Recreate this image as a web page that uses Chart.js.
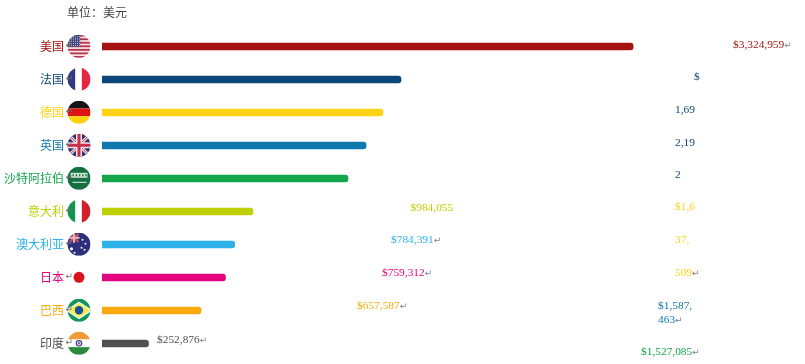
<!DOCTYPE html>
<html>
<head>
<meta charset="utf-8">
<style>html,body{margin:0;padding:0;background:#fff}#wrap{width:805px;height:364px;position:relative}</style>
<script src="https://cdn.jsdelivr.net/npm/chart.js@4"></script>
</head>
<body>
<div id="wrap"><canvas id="c" width="805" height="364"></canvas></div>
<script>
const categories = ['美国','法国','德国','英国','沙特阿拉伯','意大利','澳大利亚','日本','巴西','印度'];
const barValues = [3324959,1872000,1759000,1653000,1540000,945000,831000,773000,620000,291000];
const barColors = ['#a51212','#0d4679','#ffd314','#1178ad','#12a54a','#bfd000','#2fb2ea','#e4047f','#f9aa0e','#505050'];
const titleText = '单位：美元';
const valueTexts = [
  ['$3,324,959↵'],
  ['$','1,69','2,19','2'],
  ['$1,6','37,','509↵'],
  ['$1,587,','463↵'],
  ['$1,527,085↵'],
  ['$984,055'],
  ['$784,391↵'],
  ['$759,312↵'],
  ['$657,587↵'],
  ['$252,876↵']
];
const flagNames = ['us','fr','de','uk','sa','it','au','jp','br','in'];

/* layout only */
const textSpots = [
  [[733,45]],
  [[694,77.5],[675,110],[675,143],[675,175]],
  [[675,207.5],[675,240],[675,273]],
  [[658,306.5],[658,320.5]],
  [[641,352.5]],
  [[410.5,208.5]],
  [[391,240]],
  [[382,273]],
  [[357,306.5]],
  [[157,340]]
];

function band(ctx,x,y,w,h,col){ctx.fillStyle=col;ctx.fillRect(x,y,w,h);}
function drawFlag(ctx,name,cx,cy){
  const r=11.5,L=cx-r,T=cy-r,S=2*r;
  ctx.save();
  if(name==='jp'){
    ctx.fillStyle='#d9141c';ctx.beginPath();ctx.arc(cx,cy,5.5,0,Math.PI*2);ctx.fill();ctx.restore();return;
  }
  ctx.beginPath();ctx.arc(cx,cy,r,0,Math.PI*2);ctx.clip();
  if(name==='us'){
    band(ctx,L,T,S,S,'#f7dfe2');
    for(let i=0;i<7;i++)band(ctx,L,T+i*S/6.5,S,S/13,'#b5334a');
    band(ctx,L,T,S*0.55,S*0.52,'#3f4579');
    ctx.fillStyle='#c9cbe0';
    for(let a=0;a<5;a++)for(let b=0;b<6;b++)ctx.fillRect(L+1.5+b*2,T+1.5+a*2.2,1,1);
  }else if(name==='fr'){
    band(ctx,L,T,S,S,'#fff');band(ctx,L,T,S/3,S,'#2f3a86');band(ctx,L+S*2/3-1,T,S/3+1,S,'#e4263f');
  }else if(name==='de'){
    band(ctx,L,T,S,S/3,'#141414');band(ctx,L,T+S/3,S,S/3,'#de1414');band(ctx,L,T+S*2/3,S,S/3,'#ffd20a');
  }else if(name==='uk'){
    band(ctx,L,T,S,S,'#2c3572');
    ctx.strokeStyle='#f3e3e6';ctx.lineWidth=3;ctx.beginPath();ctx.moveTo(L,T);ctx.lineTo(L+S,T+S);ctx.moveTo(L+S,T);ctx.lineTo(L,T+S);ctx.stroke();
    ctx.strokeStyle='#c8304a';ctx.lineWidth=1;ctx.stroke();
    band(ctx,cx-3,T,6,S,'#f3e3e6');band(ctx,L,cy-3,S,6,'#f3e3e6');
    band(ctx,cx-1.5,T,3,S,'#c8304a');band(ctx,L,cy-1.5,S,3,'#c8304a');
  }else if(name==='sa'){
    band(ctx,L,T,S,S,'#14703f');
    band(ctx,L+3,T+6,S-6,5,'#cfe2d6');
    ctx.fillStyle='#14703f';for(let i=0;i<5;i++)ctx.fillRect(L+5+i*3.2,T+7.5,1.4,2);
    band(ctx,L+5,T+15,S-9,1,'#e6f0ea');
  }else if(name==='it'){
    band(ctx,L,T,S,S,'#fff');band(ctx,L,T,S/3,S,'#12944a');band(ctx,L+S*2/3-1,T,S/3+1,S,'#d0202e');
  }else if(name==='au'){
    band(ctx,L,T,S,S,'#2c2f7c');
    band(ctx,L,T,S*0.5,S*0.42,'#3a3a80');
    ctx.strokeStyle='#e05060';ctx.lineWidth=1.6;ctx.beginPath();ctx.moveTo(L+2,T+1);ctx.lineTo(L+11,T+9);ctx.moveTo(L+11,T+1);ctx.lineTo(L+2,T+9);ctx.stroke();
    band(ctx,L+5.5,T,2,10,'#e9b3bd');band(ctx,L,T+4,12,2,'#e9b3bd');
    ctx.fillStyle='#f4f4f8';
    [[4,16,1.6],[15,7,1],[18,11,1],[14,15,1],[17,17,1],[7,20,1]].forEach(p=>{ctx.beginPath();ctx.arc(L+p[0],T+p[1],p[2],0,Math.PI*2);ctx.fill();});
  }else if(name==='br'){
    band(ctx,L,T,S,S,'#14945a');
    ctx.fillStyle='#f4ee4a';ctx.beginPath();ctx.moveTo(L-1,cy);ctx.lineTo(cx,T+3.5);ctx.lineTo(L+S+1,cy);ctx.lineTo(cx,T+S-3.5);ctx.closePath();ctx.fill();
    ctx.strokeStyle='#eaf5ee';ctx.lineWidth=1.4;ctx.stroke();
    ctx.fillStyle='#1b4f9e';ctx.beginPath();ctx.arc(cx,cy,4.2,0,Math.PI*2);ctx.fill();
  }else if(name==='in'){
    band(ctx,L,T,S,S/3,'#f29a38');band(ctx,L,T+S/3,S,S/3,'#fff');band(ctx,L,T+S*2/3,S,S/3,'#2c8a3c');
    ctx.strokeStyle='#3a3a80';ctx.lineWidth=1.2;ctx.beginPath();ctx.arc(cx,cy,2.7,0,Math.PI*2);ctx.stroke();
    ctx.fillStyle='#6a6aa0';ctx.beginPath();ctx.arc(cx,cy,1.2,0,Math.PI*2);ctx.fill();
  }
  ctx.restore();
}
function drawLine(ctx,text,x,y,color){
  const mark=text.endsWith('↵');
  const body=mark?text.slice(0,-1):text;
  ctx.font='11.4px "Liberation Serif"';ctx.fillStyle=color;ctx.textAlign='left';ctx.textBaseline='middle';
  ctx.fillText(body,x,y);
  if(mark){
    const w=ctx.measureText(body).width;
    ctx.font='9px "DejaVu Sans"';ctx.fillStyle='#808080';ctx.fillText('↵',x+w,y+0.5);
  }
}
const annotate={
  id:'annotate',
  afterDatasetsDraw(chart){
    const ctx=chart.ctx,yS=chart.scales.y;
    ctx.save();
    ctx.font='12px "Noto Sans CJK SC"';ctx.fillStyle='#444';ctx.textAlign='left';ctx.textBaseline='middle';
    ctx.fillText(titleText,67,12.5);
    categories.forEach((c,i)=>{
      const cy=yS.getPixelForValue(i);
      drawFlag(ctx,flagNames[i],79,cy-0.2);
      ctx.font='9px "DejaVu Sans"';ctx.fillStyle='#707070';ctx.textAlign='left';ctx.textBaseline='middle';
      ctx.fillText('↵',65.5,cy-0.5);
      valueTexts[i].forEach((t,k)=>{
        drawLine(ctx,t,textSpots[i][k][0],textSpots[i][k][1],barColors[i]);
      });
    });
    ctx.restore();
  }
};
new Chart(document.getElementById('c'),{
  type:'bar',
  data:{labels:categories,datasets:[{
    data:barValues,backgroundColor:barColors,
    barThickness:7,borderWidth:0,borderSkipped:false,
    borderRadius:{topLeft:0,bottomLeft:0,topRight:3,bottomRight:3}
  }]},
  plugins:[annotate],
  options:{
    indexAxis:'y',responsive:false,animation:false,
    layout:{padding:{top:30,bottom:4,left:0,right:64}},
    plugins:{legend:{display:false},tooltip:{enabled:false},title:{display:false}},
    scales:{
      x:{display:false,min:0,max:4000000},
      y:{
        grid:{display:false,drawTicks:false},border:{display:false},
        afterFit(s){s.width=102;s.paddingTop=0;s.paddingBottom=0;},
        ticks:{autoSkip:false,padding:38,color:barColors,font:{family:'"Noto Sans CJK SC"',size:12}}
      }
    }
  }
});
</script>
</body>
</html>
